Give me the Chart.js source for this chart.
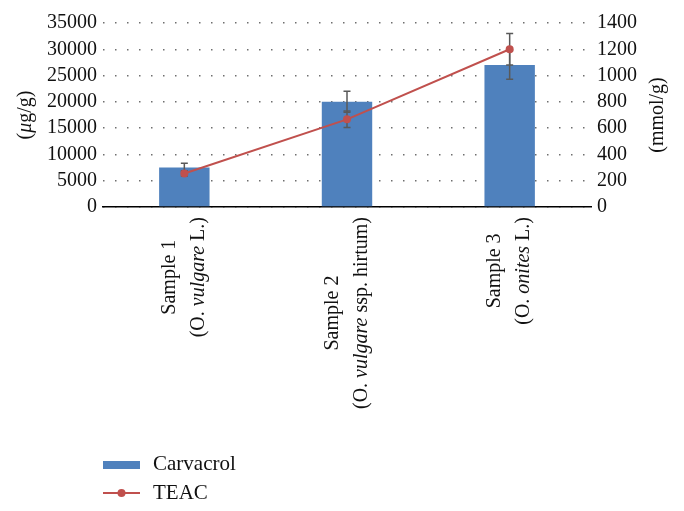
<!DOCTYPE html>
<html>
<head>
<meta charset="utf-8">
<script src="https://cdn.jsdelivr.net/npm/chart.js@4.4.0/dist/chart.umd.min.js"></script>
<style>
  html, body { margin: 0; padding: 0; background: #fff; }
  #wrap { width: 684px; height: 511px; }
</style>
</head>
<body>
<div id="wrap"><canvas id="chart" width="684" height="511"></canvas></div>
<script>
// categories + species (second label line, [text, italic])
const categories = ['Sample 1', 'Sample 2', 'Sample 3'];
const species = [
    [['(O. ', false], ['vulgare', true], [' L.)', false]],
    [['(O. ', false], ['vulgare', true], [' ssp. hirtum)', false]],
    [['(O. ', false], ['onites', true], [' L.)', false]]
];

// series
const carvacrol = [7500, 20000, 27000];
const carvacrolErr = [800, 2000, 2700];
const teac = [255, 667, 1200];
const teacErr = [20, 63, 120];

// axis ticks
const leftTicks = [0, 5000, 10000, 15000, 20000, 25000, 30000, 35000];
const rightTicks = [0, 200, 400, 600, 800, 1000, 1200, 1400];

const SERIF = '"Liberation Serif", "Times New Roman", serif';
const BLUE = '#4F81BD';
const RED = '#C0504D';
const INK = '#111';

function segFonts(segs, size) {
    return segs.map(s => (s[1] ? 'italic ' : '') + size + 'px ' + SERIF);
}

function richWidth(ctx, segs, size) {
    const fonts = segFonts(segs, size);
    return segs.reduce((w, s, i) => { ctx.font = fonts[i]; return w + ctx.measureText(s[0]).width; }, 0);
}

// draw mixed upright/italic text centred at (cx, cy), optionally rotated bottom-to-top
function drawRich(ctx, segs, cx, cy, size, rotate) {
    ctx.save();
    ctx.translate(cx, cy);
    if (rotate) ctx.rotate(-Math.PI / 2);
    ctx.textBaseline = 'middle';
    ctx.textAlign = 'left';
    ctx.fillStyle = INK;
    const fonts = segFonts(segs, size);
    let x = -richWidth(ctx, segs, size) / 2;
    segs.forEach((s, i) => {
        ctx.font = fonts[i];
        ctx.fillText(s[0], x, 0);
        x += ctx.measureText(s[0]).width;
    });
    ctx.restore();
}

function drawErr(ctx, xs, ys, vals, errs) {
    ctx.save();
    ctx.strokeStyle = '#595959';
    ctx.lineWidth = 1.5;
    vals.forEach((v, i) => {
        const px = xs.getPixelForValue(i);
        const top = ys.getPixelForValue(v + errs[i]);
        const bot = ys.getPixelForValue(v - errs[i]);
        ctx.beginPath();
        ctx.moveTo(px, top); ctx.lineTo(px, bot);
        ctx.moveTo(px - 3.5, top); ctx.lineTo(px + 3.5, top);
        ctx.moveTo(px - 3.5, bot); ctx.lineTo(px + 3.5, bot);
        ctx.stroke();
    });
    ctx.restore();
}

const errorBars = {
    id: 'errorBars',
    afterDatasetDraw(chart, args) {
        if (args.index !== 0) return; // after bars, before the TEAC line
        const { ctx, scales } = chart;
        drawErr(ctx, scales.x, scales.y, carvacrol, carvacrolErr);
        drawErr(ctx, scales.x, scales.y1, teac, teacErr);
    }
};

const decorations = {
    id: 'decorations',
    afterDraw(chart) {
        const { ctx, chartArea, scales } = chart;
        const midY = (chartArea.top + chartArea.bottom) / 2;

        // axis titles
        drawRich(ctx, [['(', false], ['μ', true], ['g/g)', false]], 26, midY, 20, true);
        drawRich(ctx, [['(mmol/g)', false]], 658, midY, 20, true);

        // category labels, two rotated lines
        categories.forEach((c, i) => {
            const px = scales.x.getPixelForValue(i);
            const w2 = richWidth(ctx, species[i], 20);
            const cy = chartArea.bottom + 10 + w2 / 2;
            drawRich(ctx, [[c, false]], px - 14.5, cy, 20, true);
            drawRich(ctx, species[i], px + 14.5, cy, 20, true);
        });

        // legend
        const ds = chart.data.datasets;
        ctx.save();
        ctx.fillStyle = ds[0].backgroundColor;
        ctx.fillRect(103, 461, 37, 8);
        ctx.strokeStyle = ds[1].borderColor;
        ctx.lineWidth = 2;
        ctx.beginPath();
        ctx.moveTo(103, 493); ctx.lineTo(140, 493);
        ctx.stroke();
        ctx.fillStyle = ds[1].borderColor;
        ctx.beginPath();
        ctx.arc(121.5, 493, 4, 0, Math.PI * 2);
        ctx.fill();
        ctx.fillStyle = INK;
        ctx.font = '21px ' + SERIF;
        ctx.textBaseline = 'middle';
        ctx.fillText(ds[0].label, 153, 464);
        ctx.fillText(ds[1].label, 153, 493);
        ctx.restore();
    }
};

const tickFont = { family: SERIF, size: 20 };

new Chart(document.getElementById('chart'), {
    type: 'bar',
    data: {
        labels: categories,
        datasets: [
            { type: 'bar', label: 'Carvacrol', data: carvacrol, yAxisID: 'y', backgroundColor: BLUE,
              barPercentage: 0.31, categoryPercentage: 1, order: 1 },
            { type: 'line', label: 'TEAC', data: teac, yAxisID: 'y1', borderColor: RED, backgroundColor: RED,
              borderWidth: 2, pointRadius: 4, pointBackgroundColor: RED, pointBorderWidth: 0, tension: 0, order: 0 }
        ]
    },
    options: {
        responsive: false,
        animation: false,
        layout: { padding: { top: 23, left: 0, right: 0, bottom: 0 } },
        plugins: { legend: { display: false }, tooltip: { enabled: false } },
        scales: {
            x: {
                offset: true,
                ticks: { display: false },
                grid: { display: false, drawTicks: false },
                border: { display: true, color: '#000', width: 1.5 },
                afterFit: s => { s.height = 304; }
            },
            y: {
                position: 'left', min: 0, max: 35000,
                afterBuildTicks: s => { s.ticks = leftTicks.map(v => ({ value: v })); },
                ticks: { autoSkip: false, padding: 6, color: INK, font: tickFont, callback: v => String(v) },
                grid: { color: '#6e6e6e', lineWidth: 1.5, drawTicks: false },
                border: { display: false, dash: [1.5, 10.5] },
                afterFit: s => { s.width = 103; }
            },
            y1: {
                position: 'right', min: 0, max: 1400,
                afterBuildTicks: s => { s.ticks = rightTicks.map(v => ({ value: v })); },
                ticks: { autoSkip: false, padding: 6, color: INK, font: tickFont, callback: v => String(v) },
                grid: { drawOnChartArea: false, drawTicks: false },
                border: { display: false },
                afterFit: s => { s.width = 93; }
            }
        }
    },
    plugins: [errorBars, decorations]
});
</script>
</body>
</html>
